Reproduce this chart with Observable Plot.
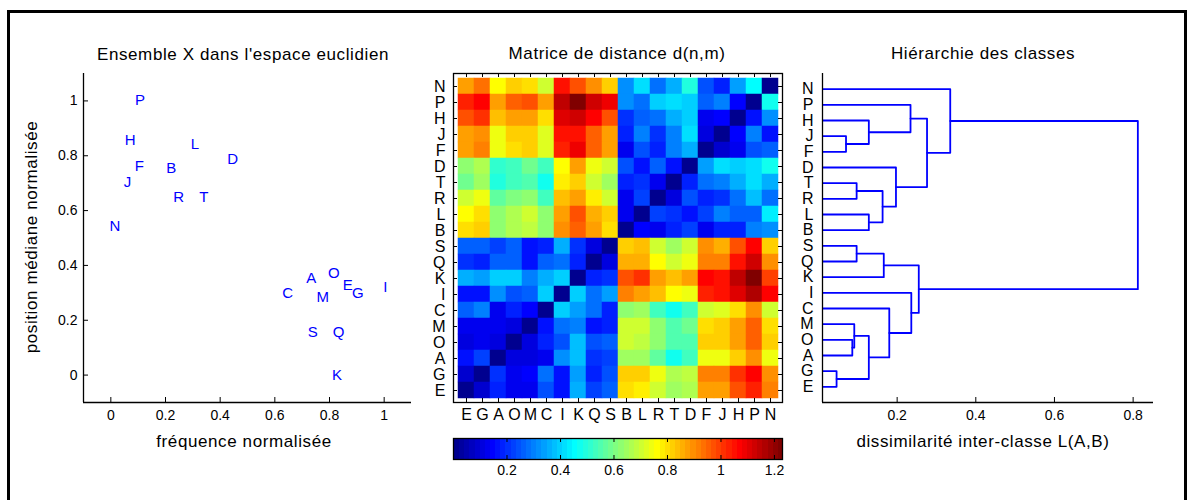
<!DOCTYPE html>
<html lang="fr">
<head>
<meta charset="utf-8">
<title>Classification hiérarchique</title>
<script src="https://cdn.jsdelivr.net/npm/d3@7"></script>
<script src="https://cdn.jsdelivr.net/npm/@observablehq/plot@0.6"></script>
<style>
  html, body { margin: 0; padding: 0; background: #fff; }
  #fig { position: relative; width: 1194px; height: 500px; overflow: hidden; background: #fff;
         font-family: "Liberation Sans", Arial, Helvetica, sans-serif; color: #000; }
  #frame { position: absolute; left: 7px; top: 10px; width: 1180px; height: 620px;
           border: 3px solid #000; box-sizing: border-box; }
  .lbl { position: absolute; white-space: nowrap; font-size: 17px; letter-spacing: 0.6px;
         line-height: 1; transform: translate(-50%, -50%); }
  .rot { transform: translate(-50%, -50%) rotate(-90deg); }
  #fig svg { position: absolute; overflow: visible; }
</style>
</head>
<body>
<div id="fig"><div id="frame"></div></div>
<script>
const FONT = '"Liberation Sans", Arial, Helvetica, sans-serif';

// ---- Ensemble X : fréquence et position médiane normalisées de chaque lettre
const letters = ["P","H","L","D","F","B","J","R","T","N","A","O","E","G","I","C","M","S","Q","K"];
const frequence = [0.107,0.071,0.308,0.446,0.104,0.221,0.061,0.248,0.340,0.015,0.733,0.816,0.867,0.904,1.004,0.647,0.775,0.739,0.833,0.827];
const positionMediane = [1.003,0.856,0.841,0.788,0.762,0.756,0.703,0.650,0.650,0.544,0.353,0.371,0.329,0.300,0.321,0.299,0.284,0.155,0.155,0.001];
const scatterDomain = [-0.1, 1.1];
const scatterTicks = [0, 0.2, 0.4, 0.6, 0.8, 1];

// ---- Matrice de distance d(n,m) : lignes (haut -> bas) et colonnes (gauche -> droite)
const rows = ["N","P","H","J","F","D","T","R","L","B","S","Q","K","I","C","M","O","A","G","E"];
const cols = ["E","G","A","O","M","C","I","K","Q","S","B","L","R","T","D","F","J","H","P","N"];
const distances = [
  [0.88,0.93,0.75,0.82,0.80,0.70,1.05,0.98,0.90,0.82, 0.32,0.42,0.27,0.36,0.49,0.24,0.18,0.33,0.46,0.00],
  [1.03,1.07,0.88,0.95,0.97,0.88,1.15,1.23,1.13,1.08, 0.31,0.28,0.39,0.42,0.40,0.26,0.30,0.15,0.00,0.47],
  [0.97,1.00,0.83,0.87,0.87,0.80,1.10,1.13,1.07,0.98, 0.20,0.26,0.28,0.35,0.39,0.12,0.15,0.00,0.16,0.32],
  [0.88,0.90,0.74,0.81,0.82,0.72,1.05,1.05,0.95,0.88, 0.18,0.30,0.20,0.30,0.41,0.10,0.00,0.14,0.30,0.17],
  [0.88,0.91,0.74,0.79,0.82,0.72,1.03,1.08,0.95,0.88, 0.13,0.24,0.18,0.29,0.35,0.00,0.08,0.12,0.24,0.25],
  [0.62,0.66,0.51,0.53,0.58,0.52,0.75,0.87,0.74,0.70, 0.24,0.16,0.26,0.17,0.00,0.34,0.42,0.40,0.41,0.48],
  [0.59,0.65,0.49,0.53,0.55,0.47,0.77,0.82,0.70,0.64, 0.18,0.20,0.12,0.00,0.18,0.28,0.29,0.35,0.42,0.36],
  [0.70,0.74,0.56,0.60,0.62,0.53,0.84,0.87,0.77,0.70, 0.13,0.22,0.00,0.10,0.24,0.18,0.21,0.28,0.38,0.27],
  [0.76,0.80,0.62,0.67,0.70,0.62,0.87,0.97,0.86,0.82, 0.13,0.00,0.22,0.21,0.17,0.23,0.29,0.26,0.26,0.44],
  [0.79,0.81,0.62,0.67,0.69,0.62,0.90,0.95,0.87,0.80, 0.00,0.14,0.12,0.18,0.23,0.12,0.19,0.19,0.30,0.32],
  [0.25,0.25,0.22,0.26,0.17,0.19,0.36,0.20,0.10,0.00, 0.81,0.83,0.71,0.64,0.70,0.89,0.85,0.98,1.06,0.82],
  [0.21,0.19,0.25,0.25,0.17,0.26,0.28,0.19,0.00,0.11, 0.85,0.85,0.76,0.71,0.74,0.92,0.92,1.04,1.12,0.89],
  [0.36,0.33,0.40,0.40,0.30,0.35,0.40,0.00,0.19,0.20, 0.97,1.00,0.88,0.83,0.88,1.07,1.05,1.14,1.23,0.99],
  [0.17,0.16,0.31,0.24,0.26,0.40,0.00,0.40,0.28,0.34, 0.92,0.88,0.84,0.76,0.74,1.03,1.05,1.10,1.16,1.07],
  [0.25,0.30,0.13,0.19,0.14,0.00,0.39,0.34,0.27,0.18, 0.62,0.64,0.52,0.47,0.52,0.70,0.72,0.80,0.90,0.70],
  [0.12,0.13,0.12,0.11,0.00,0.16,0.27,0.30,0.17,0.18, 0.71,0.71,0.62,0.55,0.59,0.80,0.82,0.87,0.96,0.80],
  [0.10,0.12,0.11,0.00,0.10,0.18,0.24,0.38,0.24,0.25, 0.70,0.68,0.62,0.54,0.54,0.81,0.82,0.87,0.95,0.82],
  [0.16,0.22,0.00,0.11,0.11,0.12,0.31,0.38,0.20,0.22, 0.64,0.64,0.56,0.48,0.52,0.74,0.74,0.82,0.90,0.74],
  [0.08,0.00,0.21,0.13,0.14,0.27,0.17,0.34,0.19,0.24, 0.82,0.81,0.74,0.67,0.68,0.92,0.92,1.00,1.06,0.90],
  [0.00,0.08,0.18,0.12,0.13,0.24,0.17,0.35,0.22,0.25, 0.80,0.77,0.70,0.64,0.67,0.88,0.88,0.98,1.03,0.91]
];
const colorbarTicks = [0.2, 0.4, 0.6, 0.8, 1, 1.2];

// ---- Hiérarchie : fusions successives (A, B, hauteur) ; "#k" désigne la k-ième classe formée
const mergeA = ["G","J","O","M","T","S","H","L","#4","#5","#6","C","D","P","I","#11","#14","N","#18"];
const mergeB = ["E","F","A","#3","R","Q","#2","B","#1","#8","K","#9","#10","#7","#12","#15","#13","#17","#16"];
const mergeHeight = [0.046,0.070,0.086,0.091,0.097,0.097,0.128,0.128,0.128,0.163,0.166,0.180,0.197,0.234,0.236,0.255,0.276,0.335,0.812];
const dendroDomain = [0.0102, 0.8518];
const dendroTicks = [0.2, 0.4, 0.6, 0.8];

// Palette "jet" à 64 niveaux
function jet(t) {
  const n = 64;
  const i = Math.max(0, Math.min(n - 1, Math.floor(t * n)));
  const u = (i + 1) / n;
  const c = v => Math.round(255 * Math.max(0, Math.min(1, v)));
  return `rgb(${c(1.5 - Math.abs(4 * u - 3))},${c(1.5 - Math.abs(4 * u - 2))},${c(1.5 - Math.abs(4 * u - 1))})`;
}

const fig = document.getElementById("fig");
function place(node, left, top) {
  node.style.left = left + "px";
  node.style.top = top + "px";
  fig.appendChild(node);
}
function label(text, x, y, rotate = false) {
  const d = document.createElement("div");
  d.className = "lbl" + (rotate ? " rot" : "");
  d.textContent = text;
  d.style.left = x + "px";
  d.style.top = y + "px";
  fig.appendChild(d);
}
const baseStyle = {fontFamily: FONT, fontSize: "14px", color: "#000", background: "transparent", overflow: "visible"};

// ---------- Panneau 1 : nuage de points étiquetés
const points = letters.map((l, i) => ({l, x: frequence[i], y: positionMediane[i]}));
const scatter = Plot.plot({
  width: 420, height: 500,
  marginLeft: 83, marginRight: 9, marginTop: 73, marginBottom: 98,
  x: {domain: scatterDomain, label: null},
  y: {domain: scatterDomain, label: null},
  style: baseStyle,
  marks: [
    Plot.ruleX([scatterDomain[0]], {stroke: "#000", strokeWidth: 1.3}),
    Plot.ruleY([scatterDomain[0]], {stroke: "#000", strokeWidth: 1.3}),
    Plot.ruleX(scatterTicks, {stroke: "#000", insetTop: 324}),
    Plot.ruleY(scatterTicks, {stroke: "#000", insetRight: 323}),
    Plot.axisX(scatterTicks, {tickSize: 0, tickPadding: 8, fontSize: 14, tickFormat: d => String(d)}),
    Plot.axisY(scatterTicks, {tickSize: 0, tickPadding: 6, fontSize: 14, tickFormat: d => String(d)}),
    Plot.text(points, {x: "x", y: "y", text: "l", fill: "#0000ff", fontSize: 15, textAnchor: "middle"})
  ]
});
place(scatter, 0, 0);

// ---------- Panneau 2 : matrice de distance
const cells = rows.flatMap((r, i) => cols.map((c, j) => ({row: r, col: c, d: distances[i][j]})));
const dMax = d3.max(cells, d => d.d);
const colorScale = {type: "linear", domain: [0, dMax], interpolate: jet};

const matrix = Plot.plot({
  width: 380, height: 380,
  marginLeft: 33, marginRight: 18, marginTop: 13, marginBottom: 38,
  x: {type: "band", domain: cols, padding: 0, label: null},
  y: {type: "band", domain: rows, padding: 0, label: null},
  color: colorScale,
  style: {...baseStyle, fontSize: "16px"},
  marks: [
    Plot.cell(cells, {x: "col", y: "row", fill: "d", stroke: "d", strokeWidth: 0.5}),
    Plot.frame({stroke: "#000", strokeWidth: 1.3}),
    Plot.ruleX(cols, {stroke: "#000", insetTop: 325}),
    Plot.ruleX(cols, {stroke: "#000", insetBottom: 325}),
    Plot.ruleY(rows, {stroke: "#000", insetRight: 325}),
    Plot.ruleY(rows, {stroke: "#000", insetLeft: 325}),
    Plot.axisX({tickSize: 0, tickPadding: 6, fontSize: 16}),
    Plot.axisY({tickSize: 0, tickPadding: 8, fontSize: 16})
  ]
});
place(matrix, 420, 60);

// Barre de couleur
const colorbar = Plot.plot({
  width: 380, height: 75,
  marginLeft: 33, marginRight: 18, marginTop: 13, marginBottom: 41,
  x: {domain: [0, dMax], label: null},
  y: {domain: [0, 1], axis: null},
  color: colorScale,
  style: baseStyle,
  marks: [
    Plot.raster({x1: 0, x2: dMax, y1: 0, y2: 1, width: 329, height: 1, fill: (x) => x, imageRendering: "pixelated"}),
    Plot.frame({stroke: "#000", strokeWidth: 1.3}),
    Plot.ruleX(colorbarTicks, {stroke: "#000", insetTop: 17}),
    Plot.ruleX(colorbarTicks, {stroke: "#000", insetBottom: 17}),
    Plot.axisX(colorbarTicks, {tickSize: 0, tickPadding: 6, fontSize: 14, tickFormat: d => String(d)})
  ]
});
place(colorbar, 420, 425);

// ---------- Panneau 3 : dendrogramme
const nodes = new Map(rows.map((r, i) => [r, {h: 0, y: rows.length - i}]));
const segments = [];
mergeA.forEach((a, k) => {
  const A = nodes.get(a), B = nodes.get(mergeB[k]), h = mergeHeight[k];
  segments.push({k, x: A.h, y: A.y}, {k, x: h, y: A.y}, {k, x: h, y: B.y}, {k, x: B.h, y: B.y});
  nodes.set("#" + (k + 1), {h, y: (A.y + B.y) / 2});
});
const leafPositions = rows.map((r, i) => rows.length - i);

const dendro = Plot.plot({
  width: 404, height: 500,
  marginLeft: 32, marginRight: 41, marginTop: 73, marginBottom: 98,
  x: {domain: dendroDomain, label: null},
  y: {domain: [0, rows.length + 1], label: null},
  style: baseStyle,
  marks: [
    Plot.line(segments, {x: "x", y: "y", z: "k", stroke: "#0000ff", strokeWidth: 1.8, clip: true}),
    Plot.ruleX([dendroDomain[0]], {stroke: "#000", strokeWidth: 1.3}),
    Plot.ruleY([0], {stroke: "#000", strokeWidth: 1.3}),
    Plot.ruleX(dendroTicks, {stroke: "#000", insetTop: 324}),
    Plot.axisX(dendroTicks, {tickSize: 0, tickPadding: 8, fontSize: 14, tickFormat: d => String(d)}),
    Plot.axisY(leafPositions, {tickSize: 0, tickPadding: 9, fontSize: 16, tickFormat: v => rows[rows.length - v]})
  ]
});
place(dendro, 790, 0);

// ---------- Titres et libellés d'axes
label("Ensemble X dans l'espace euclidien", 243, 54);
label("Matrice de distance d(n,m)", 617, 53);
label("Hiérarchie des classes", 983, 53);
label("fréquence normalisée", 244, 441);
label("position médiane normalisée", 31, 237, true);
label("dissimilarité inter-classe L(A,B)", 983, 441);
</script>
</body>
</html>
